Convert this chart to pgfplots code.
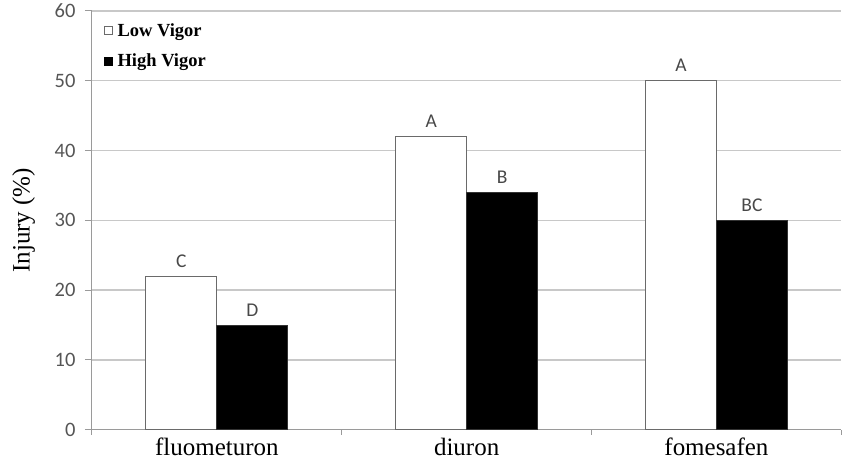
\documentclass[border=0pt]{standalone}
\usepackage{pgfplots}
\pgfplotsset{compat=1.18}
\usepackage{fontspec}
\setmainfont{Liberation Serif}
\newfontfamily\calibri{Carlito}
\definecolor{gridc}{HTML}{C8C8C8}
\definecolor{axc}{HTML}{9A9A9A}
\definecolor{tickc}{HTML}{555555}
\definecolor{barb}{HTML}{6A6A6A}
\begin{document}
\begin{tikzpicture}
\begin{axis}[
  scale only axis,
  width=750bp, height=419bp,
  xmin=-0.5, xmax=2.5,
  ymin=0, ymax=60,
  ytick={0,10,20,30,40,50,60},
  xtick={0,1,2},
  xticklabels={fluometuron,diuron,fomesafen},
  minor xtick={-0.5,0.5,1.5,2.5},
  major x tick style={draw=none},
  minor x tick style={axc, line width=1bp},
  y tick style={axc, line width=1bp},
  tick align=outside,
  major tick length=7bp,
  minor tick length=5bp,
  ymajorgrids,
  grid style={gridc, line width=1.3bp},
  axis x line*=bottom,
  axis y line*=left,
  axis line style={axc, line width=1bp, -},
  /pgf/number format/assume math mode=true,
  yticklabel style={font=\calibri\fontsize{20.5bp}{22bp}\selectfont, text=tickc, xshift=-6bp},
  xticklabel style={font=\fontsize{25bp}{28bp}\selectfont, text=black, yshift=2bp},
  ylabel={Injury (\%)},
  ylabel style={font=\fontsize{25bp}{28bp}\selectfont, at={(axis description cs:-0.091,0.5)}, anchor=center, rotate=0},
  ybar=0pt,
  bar width=71bp,
  nodes near coords,
  point meta=explicit symbolic,
  every node near coord/.append style={font=\calibri\fontsize{19.5bp}{20bp}\selectfont, text=tickc!85!black, yshift=5bp},
  legend style={draw=none, fill=none, at={(axis description cs:0.016,0.975)}, anchor=north west,
    font=\bfseries\fontsize{18.5bp}{20bp}\selectfont, row sep=12bp, inner sep=0pt,
    nodes={inner xsep=4.5bp}},
  legend cell align=left,
]
\addplot[draw=barb, fill=white, line width=1bp,
  legend image code/.code={\draw[barb, line width=0.8bp, fill=white] (0bp,-4bp) rectangle (8bp,4bp);}]
  coordinates {(0,22) [C] (1,42) [A] (2,50) [A]};
\addlegendentry{Low Vigor}
\addplot[draw=black!80, fill=black, line width=1bp,
  legend image code/.code={\draw[black, fill=black] (0bp,-4bp) rectangle (8bp,4bp);}]
  coordinates {(0,15) [D] (1,34) [B] (2,30) [BC]};
\addlegendentry{High Vigor}
\end{axis}
\path[use as bounding box] (-92bp,-34bp) rectangle (750bp,430bp);
\end{tikzpicture}
\end{document}
